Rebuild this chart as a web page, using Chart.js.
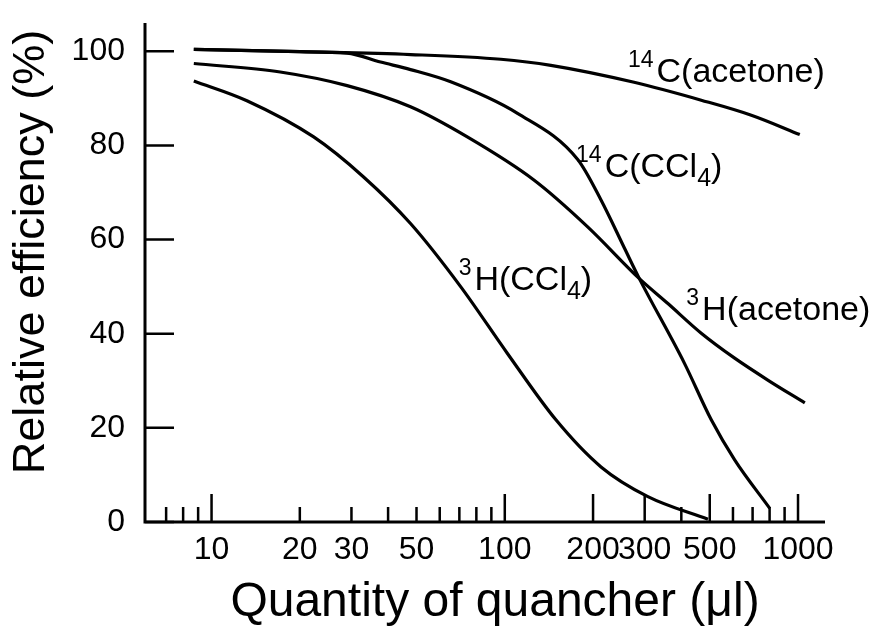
<!DOCTYPE html>
<html>
<head>
<meta charset="utf-8">
<script src="https://cdn.jsdelivr.net/npm/chart.js@4.4.1/dist/chart.umd.min.js"></script>
<style>
  html, body { margin: 0; padding: 0; background: #fff; }
  #wrap { width: 875px; height: 631px; }
</style>
</head>
<body>
<div id="wrap"><canvas id="myChart"></canvas></div>
<script>
(() => {
    'use strict'

    // tick values
    const xTickValues = [7, 8, 9, 10, 20, 30, 40, 50, 60, 70, 80, 90, 100, 200, 300, 400, 500, 600, 700, 800, 900, 1000];
    const xLabelTicks = [10, 20, 30, 50, 100, 200, 300, 500, 1000];
    const xTallTicks = [10, 100, 200, 300, 500, 1000];
    const yTickValues = [0, 20, 40, 60, 80, 100];

    // curves (quantity in µl, efficiency in %)
    const c14AcetoneX = [8.7, 20, 47.7, 96.9, 143.6, 276, 467.7, 693, 1014];
    const c14AcetoneY = [100.4, 99.9, 99.3, 98.3, 97.0, 93.4, 89.6, 86.4, 82.3];

    const c14CclX = [8.7, 20, 29, 37.7, 47.7, 65.4, 110.5, 177.3, 212.9, 255.8, 287.7, 410, 506, 608, 801];
    const c14CclY = [100.4, 99.9, 99.6, 97.7, 96.1, 93.5, 86.8, 77.0, 68.4, 58.2, 51.7, 33.7, 21.7, 13.2, 2.9];

    const h3AcetoneX = [8.7, 17.15, 29, 47.7, 74.5, 126, 191.7, 287.7, 360, 467.7, 608, 791, 1055];
    const h3AcetoneY = [97.4, 95.6, 92.7, 88.2, 81.8, 72.6, 62.7, 51.7, 46.4, 40.1, 34.8, 30.1, 25.3];

    const h3CclX = [8.7, 13.2, 22.3, 33, 47.7, 70.7, 102.1, 149.4, 212.9, 307.6, 493];
    const h3CclY = [93.7, 89.5, 81.8, 73.3, 63.4, 50, 35.8, 21.7, 11.7, 5.4, 0.6];

    // curve labels: text pieces and where they sit (data coords, left edge / baseline)
    const curveLabels = [
        { x: 263, y: 93.5, parts: [['sup', '14'], ['main', 'C(acetone)']] },
        { x: 175, y: 73.3, parts: [['sup', '14'], ['main', 'C(CCl'], ['sub', '4'], ['main', ')']] },
        { x: 69.6, y: 49.3, parts: [['sup', '3'], ['main', 'H(CCl'], ['sub', '4'], ['main', ')']] },
        { x: 416, y: 42.9, parts: [['sup', '3'], ['main', 'H(acetone)']] }
    ];

    const FONT = '"Liberation Sans", Arial, Helvetica, sans-serif';

    const toPoints = (xs, ys) => xs.map((x, i) => ({ x: x, y: ys[i] }));

    const curve = (xs, ys) => ({
        data: toPoints(xs, ys),
        borderColor: '#000',
        borderWidth: 3.2,
        pointRadius: 0,
        fill: false,
        cubicInterpolationMode: 'monotone'
    });

    function drawRich(ctx, parts, x, y) {
        let cx = x;
        ctx.textBaseline = 'alphabetic';
        ctx.textAlign = 'left';
        parts.forEach(([kind, text]) => {
            let size = 34, dy = 0;
            if (kind === 'sup') { size = 23; dy = -15; }
            if (kind === 'sub') { size = 25; dy = 9; }
            ctx.font = size + 'px ' + FONT;
            ctx.fillText(text, cx, y + dy);
            cx += ctx.measureText(text).width;
            if (kind === 'sup') cx += 3;
        });
    }

    const axesAndLabels = {
        id: 'axesAndLabels',
        afterDraw(chart) {
            const ctx = chart.ctx;
            const xs = chart.scales.x;
            const ys = chart.scales.y;
            const area = chart.chartArea;
            ctx.save();
            ctx.strokeStyle = '#000';
            ctx.fillStyle = '#000';

            // axis lines
            ctx.lineWidth = 3;
            ctx.beginPath();
            ctx.moveTo(area.left, area.top);
            ctx.lineTo(area.left, area.bottom + 1.5);
            ctx.moveTo(area.left - 1.5, area.bottom);
            ctx.lineTo(area.right, area.bottom);
            ctx.stroke();

            // inward tick marks
            ctx.lineWidth = 2.5;
            ctx.beginPath();
            yTickValues.forEach(v => {
                const y = ys.getPixelForValue(v);
                ctx.moveTo(area.left, y);
                ctx.lineTo(area.left + 29, y);
            });
            xTickValues.forEach(v => {
                const x = xs.getPixelForValue(v);
                const len = xTallTicks.includes(v) ? 28 : 15;
                ctx.moveTo(x, area.bottom);
                ctx.lineTo(x, area.bottom - len);
            });
            ctx.stroke();

            // curve labels
            curveLabels.forEach(l => {
                drawRich(ctx, l.parts, xs.getPixelForValue(l.x), ys.getPixelForValue(l.y));
            });

            // axis titles
            ctx.textAlign = 'center';
            ctx.textBaseline = 'alphabetic';
            ctx.font = '48px ' + FONT;
            ctx.fillText('Quantity of quancher (\u03bcl)', (area.left + area.right) / 2 + 10, 616);

            ctx.font = '45px ' + FONT;
            ctx.translate(44, 252);
            ctx.rotate(-Math.PI / 2);
            ctx.fillText('Relative efficiency (%)', 0, 0);
            ctx.restore();
        }
    };

    const ctx = document.getElementById('myChart');

    new Chart(ctx, {
        type: 'line',
        data: {
            datasets: [
                curve(c14AcetoneX, c14AcetoneY),
                curve(c14CclX, c14CclY),
                curve(h3AcetoneX, h3AcetoneY),
                curve(h3CclX, h3CclY)
            ]
        },
        options: {
            responsive: true,
            maintainAspectRatio: false,
            devicePixelRatio: 1,
            animation: false,
            layout: {
                padding: { left: 0, top: 23, right: 50, bottom: 0 }
            },
            plugins: {
                legend: { display: false },
                tooltip: { enabled: false }
            },
            scales: {
                x: {
                    type: 'logarithmic',
                    min: 5.93,
                    max: 1236,
                    afterFit: s => { s.height = 109; s.paddingLeft = 0; s.paddingRight = 0; },
                    afterBuildTicks: s => { s.ticks = xTickValues.map(v => ({ value: v })); },
                    grid: { display: false, drawTicks: false },
                    border: { display: false },
                    ticks: {
                        autoSkip: false,
                        maxRotation: 0,
                        minRotation: 0,
                        padding: 9,
                        color: '#000',
                        font: { family: FONT, size: 32 },
                        callback: v => xLabelTicks.includes(v) ? String(v) : ''
                    }
                },
                y: {
                    min: 0,
                    max: 106,
                    afterFit: s => { s.width = 145; s.paddingTop = 0; s.paddingBottom = 0; },
                    afterBuildTicks: s => { s.ticks = yTickValues.map(v => ({ value: v })); },
                    grid: { display: false, drawTicks: false },
                    border: { display: false },
                    ticks: {
                        padding: 20,
                        color: '#000',
                        font: { family: FONT, size: 32 }
                    }
                }
            }
        },
        plugins: [axesAndLabels]
    });
})()
</script>
</body>
</html>
